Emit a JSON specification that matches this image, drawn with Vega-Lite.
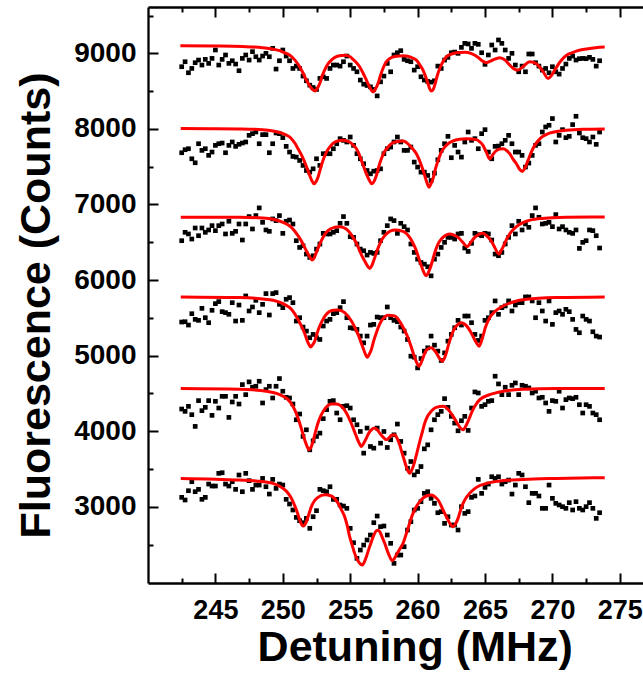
{
"$schema": "https://vega.github.io/schema/vega-lite/v6.json",
"width": 495, "height": 576,
"autosize": {"type": "none"},
"padding": {"left": 148, "top": 7, "right": 0, "bottom": 92},
"background": "white",
"config": {"view": {"stroke": null}, "axis": {"grid": false, "domainColor": "black", "tickColor": "black", "labelColor": "black", "titleColor": "black", "labelFont": "Liberation Sans", "titleFont": "Liberation Sans", "labelFontWeight": "bold", "titleFontWeight": "bold", "domainWidth": 2.3, "tickWidth": 2, "labelOverlap": false, "labelFlush": false}},
"datasets": {
"pts": [
{"t":1,"x":242.5,"y":8823},{"t":1,"x":242.75,"y":8889},{"t":1,"x":243,"y":8743},{"t":1,"x":243.25,"y":8800},{"t":1,"x":243.5,"y":8876},{"t":1,"x":243.75,"y":8911},{"t":1,"x":244,"y":8845},{"t":1,"x":244.25,"y":8920},{"t":1,"x":244.5,"y":8867},{"t":1,"x":244.75,"y":8933},
{"t":1,"x":245,"y":9044},{"t":1,"x":245.25,"y":8845},{"t":1,"x":245.5,"y":8920},{"t":1,"x":245.75,"y":8978},{"t":1,"x":246,"y":8867},{"t":1,"x":246.25,"y":8902},{"t":1,"x":246.5,"y":8858},{"t":1,"x":246.75,"y":8770},{"t":1,"x":247,"y":8933},{"t":1,"x":247.25,"y":8978},
{"t":1,"x":247.5,"y":8911},{"t":1,"x":247.75,"y":9022},{"t":1,"x":248,"y":8955},{"t":1,"x":248.25,"y":8911},{"t":1,"x":248.5,"y":8964},{"t":1,"x":248.75,"y":9000},{"t":1,"x":249,"y":8955},{"t":1,"x":249.25,"y":9066},{"t":1,"x":249.5,"y":8792},{"t":1,"x":249.75,"y":8902},
{"t":1,"x":250,"y":9044},{"t":1,"x":250.25,"y":8964},{"t":1,"x":250.5,"y":8902},{"t":1,"x":250.75,"y":8800},{"t":1,"x":251,"y":8831},{"t":1,"x":251.25,"y":8800},{"t":1,"x":251.5,"y":8699},{"t":1,"x":251.75,"y":8637},{"t":1,"x":252,"y":8579},{"t":1,"x":252.25,"y":8548},
{"t":1,"x":252.5,"y":8522},{"t":1,"x":252.75,"y":8668},{"t":1,"x":253,"y":8690},{"t":1,"x":253.25,"y":8668},{"t":1,"x":253.5,"y":8800},{"t":1,"x":253.75,"y":8845},{"t":1,"x":254,"y":8845},{"t":1,"x":254.25,"y":8831},{"t":1,"x":254.5,"y":8889},{"t":1,"x":254.75,"y":8964},
{"t":1,"x":255,"y":8845},{"t":1,"x":255.25,"y":8800},{"t":1,"x":255.5,"y":8756},{"t":1,"x":255.75,"y":8646},{"t":1,"x":256,"y":8592},{"t":1,"x":256.25,"y":8575},{"t":1,"x":256.5,"y":8557},{"t":1,"x":256.75,"y":8522},{"t":1,"x":257,"y":8437},{"t":1,"x":257.25,"y":8623},
{"t":1,"x":257.5,"y":8699},{"t":1,"x":257.75,"y":8867},{"t":1,"x":258,"y":8756},{"t":1,"x":258.25,"y":8978},{"t":1,"x":258.5,"y":9008},{"t":1,"x":258.75,"y":9035},{"t":1,"x":259,"y":8920},{"t":1,"x":259.25,"y":8902},{"t":1,"x":259.5,"y":8889},{"t":1,"x":259.75,"y":8778},
{"t":1,"x":260,"y":8823},{"t":1,"x":260.25,"y":8690},{"t":1,"x":260.5,"y":8646},{"t":1,"x":260.75,"y":8628},{"t":1,"x":261,"y":8619},{"t":1,"x":261.25,"y":8637},{"t":1,"x":261.5,"y":8831},{"t":1,"x":261.75,"y":8800},{"t":1,"x":262,"y":8911},{"t":1,"x":262.25,"y":8947},
{"t":1,"x":262.5,"y":9008},{"t":1,"x":262.75,"y":9017},{"t":1,"x":263,"y":9000},{"t":1,"x":263.25,"y":9079},{"t":1,"x":263.5,"y":9132},{"t":1,"x":263.75,"y":9124},{"t":1,"x":264,"y":9066},{"t":1,"x":264.25,"y":9132},{"t":1,"x":264.5,"y":9119},{"t":1,"x":264.75,"y":9008},
{"t":1,"x":265,"y":8854},{"t":1,"x":265.25,"y":8978},{"t":1,"x":265.5,"y":9110},{"t":1,"x":265.75,"y":9044},{"t":1,"x":266,"y":9177},{"t":1,"x":266.25,"y":9132},{"t":1,"x":266.5,"y":9044},{"t":1,"x":266.75,"y":8933},{"t":1,"x":267,"y":9000},{"t":1,"x":267.25,"y":8845},
{"t":1,"x":267.5,"y":8756},{"t":1,"x":267.75,"y":8831},{"t":1,"x":268,"y":8756},{"t":1,"x":268.25,"y":8991},{"t":1,"x":268.5,"y":8991},{"t":1,"x":268.75,"y":8876},{"t":1,"x":269,"y":8831},{"t":1,"x":269.25,"y":8778},{"t":1,"x":269.5,"y":8800},{"t":1,"x":269.75,"y":8743},
{"t":1,"x":270,"y":8823},{"t":1,"x":270.25,"y":8756},{"t":1,"x":270.5,"y":8725},{"t":1,"x":270.75,"y":8800},{"t":1,"x":271,"y":8858},{"t":1,"x":271.25,"y":8933},{"t":1,"x":271.5,"y":8964},{"t":1,"x":271.75,"y":8911},{"t":1,"x":272,"y":8929},{"t":1,"x":272.25,"y":8933},
{"t":1,"x":272.5,"y":8929},{"t":1,"x":272.75,"y":8947},{"t":1,"x":273,"y":8920},{"t":1,"x":273.25,"y":8831},{"t":1,"x":273.5,"y":8902},
{"t":2,"x":242.5,"y":7685},{"t":2,"x":242.75,"y":7725},{"t":2,"x":243,"y":7738},{"t":2,"x":243.25,"y":7605},{"t":2,"x":243.5,"y":7552},{"t":2,"x":243.75,"y":7804},{"t":2,"x":244,"y":7716},{"t":2,"x":244.25,"y":7738},{"t":2,"x":244.5,"y":7650},{"t":2,"x":244.75,"y":7694},
{"t":2,"x":245,"y":7782},{"t":2,"x":245.25,"y":7804},{"t":2,"x":245.5,"y":7813},{"t":2,"x":245.75,"y":7685},{"t":2,"x":246,"y":7782},{"t":2,"x":246.25,"y":7827},{"t":2,"x":246.5,"y":7769},{"t":2,"x":246.75,"y":7796},{"t":2,"x":247,"y":7813},{"t":2,"x":247.25,"y":7827},
{"t":2,"x":247.5,"y":7915},{"t":2,"x":247.75,"y":7937},{"t":2,"x":248,"y":7959},{"t":2,"x":248.25,"y":7804},{"t":2,"x":248.5,"y":7924},{"t":2,"x":248.75,"y":7924},{"t":2,"x":249,"y":7685},{"t":2,"x":249.25,"y":7804},{"t":2,"x":249.5,"y":7946},{"t":2,"x":249.75,"y":7937},
{"t":2,"x":250,"y":7884},{"t":2,"x":250.25,"y":7769},{"t":2,"x":250.5,"y":7694},{"t":2,"x":250.75,"y":7636},{"t":2,"x":251,"y":7627},{"t":2,"x":251.25,"y":7583},{"t":2,"x":251.5,"y":7517},{"t":2,"x":251.75,"y":7450},{"t":2,"x":252,"y":7428},{"t":2,"x":252.25,"y":7472},
{"t":2,"x":252.5,"y":7605},{"t":2,"x":252.75,"y":7517},{"t":2,"x":253,"y":7672},{"t":2,"x":253.25,"y":7672},{"t":2,"x":253.5,"y":7672},{"t":2,"x":253.75,"y":7738},{"t":2,"x":254,"y":7804},{"t":2,"x":254.25,"y":7871},{"t":2,"x":254.5,"y":7849},{"t":2,"x":254.75,"y":7827},
{"t":2,"x":255,"y":7893},{"t":2,"x":255.25,"y":7782},{"t":2,"x":255.5,"y":7672},{"t":2,"x":255.75,"y":7605},{"t":2,"x":256,"y":7539},{"t":2,"x":256.25,"y":7450},{"t":2,"x":256.5,"y":7406},{"t":2,"x":256.75,"y":7441},{"t":2,"x":257,"y":7450},{"t":2,"x":257.25,"y":7472},
{"t":2,"x":257.5,"y":7672},{"t":2,"x":257.75,"y":7738},{"t":2,"x":258,"y":7760},{"t":2,"x":258.25,"y":7827},{"t":2,"x":258.5,"y":7893},{"t":2,"x":258.75,"y":7827},{"t":2,"x":259,"y":7716},{"t":2,"x":259.25,"y":7716},{"t":2,"x":259.5,"y":7760},{"t":2,"x":259.75,"y":7561},
{"t":2,"x":260,"y":7495},{"t":2,"x":260.25,"y":7428},{"t":2,"x":260.5,"y":7428},{"t":2,"x":260.75,"y":7384},{"t":2,"x":261,"y":7317},{"t":2,"x":261.25,"y":7415},{"t":2,"x":261.5,"y":7592},{"t":2,"x":261.75,"y":7716},{"t":2,"x":262,"y":7804},{"t":2,"x":262.25,"y":7902},
{"t":2,"x":262.5,"y":7619},{"t":2,"x":262.75,"y":7782},{"t":2,"x":263,"y":7694},{"t":2,"x":263.25,"y":7627},{"t":2,"x":263.5,"y":7827},{"t":2,"x":263.75,"y":7959},{"t":2,"x":264,"y":7849},{"t":2,"x":264.25,"y":7871},{"t":2,"x":264.5,"y":7738},{"t":2,"x":264.75,"y":7937},
{"t":2,"x":265,"y":7990},{"t":2,"x":265.25,"y":7694},{"t":2,"x":265.5,"y":7605},{"t":2,"x":265.75,"y":7769},{"t":2,"x":266,"y":7773},{"t":2,"x":266.25,"y":7804},{"t":2,"x":266.5,"y":7849},{"t":2,"x":266.75,"y":7915},{"t":2,"x":267,"y":7804},{"t":2,"x":267.25,"y":7694},
{"t":2,"x":267.5,"y":7694},{"t":2,"x":267.75,"y":7650},{"t":2,"x":268,"y":7495},{"t":2,"x":268.25,"y":7548},{"t":2,"x":268.5,"y":7650},{"t":2,"x":268.75,"y":7782},{"t":2,"x":269,"y":7804},{"t":2,"x":269.25,"y":7959},{"t":2,"x":269.5,"y":8026},{"t":2,"x":269.75,"y":8048},
{"t":2,"x":270,"y":8137},{"t":2,"x":270.25,"y":7827},{"t":2,"x":270.5,"y":7915},{"t":2,"x":270.75,"y":7990},{"t":2,"x":271,"y":7884},{"t":2,"x":271.25,"y":7902},{"t":2,"x":271.5,"y":8057},{"t":2,"x":271.75,"y":8167},{"t":2,"x":272,"y":7946},{"t":2,"x":272.25,"y":7884},
{"t":2,"x":272.5,"y":7871},{"t":2,"x":272.75,"y":7827},{"t":2,"x":273,"y":7893},{"t":2,"x":273.25,"y":7796},{"t":2,"x":273.5,"y":7959},
{"t":3,"x":242.5,"y":6521},{"t":3,"x":242.75,"y":6632},{"t":3,"x":243,"y":6610},{"t":3,"x":243.25,"y":6543},{"t":3,"x":243.5,"y":6689},{"t":3,"x":243.75,"y":6587},{"t":3,"x":244,"y":6689},{"t":3,"x":244.25,"y":6632},{"t":3,"x":244.5,"y":6663},{"t":3,"x":244.75,"y":6720},
{"t":3,"x":245,"y":6654},{"t":3,"x":245.25,"y":6720},{"t":3,"x":245.5,"y":6742},{"t":3,"x":245.75,"y":6610},{"t":3,"x":246,"y":6778},{"t":3,"x":246.25,"y":6618},{"t":3,"x":246.5,"y":6645},{"t":3,"x":246.75,"y":6742},{"t":3,"x":247,"y":6530},{"t":3,"x":247.25,"y":6742},
{"t":3,"x":247.5,"y":6840},{"t":3,"x":247.75,"y":6676},{"t":3,"x":248,"y":6853},{"t":3,"x":248.25,"y":6955},{"t":3,"x":248.5,"y":6764},{"t":3,"x":248.75,"y":6663},{"t":3,"x":249,"y":6645},{"t":3,"x":249.25,"y":6809},{"t":3,"x":249.5,"y":6787},{"t":3,"x":249.75,"y":6853},
{"t":3,"x":250,"y":6618},{"t":3,"x":250.25,"y":6778},{"t":3,"x":250.5,"y":6795},{"t":3,"x":250.75,"y":6742},{"t":3,"x":251,"y":6521},{"t":3,"x":251.25,"y":6432},{"t":3,"x":251.5,"y":6454},{"t":3,"x":251.75,"y":6344},{"t":3,"x":252,"y":6300},{"t":3,"x":252.25,"y":6322},
{"t":3,"x":252.5,"y":6410},{"t":3,"x":252.75,"y":6477},{"t":3,"x":253,"y":6618},{"t":3,"x":253.25,"y":6610},{"t":3,"x":253.5,"y":6610},{"t":3,"x":253.75,"y":6632},{"t":3,"x":254,"y":6654},{"t":3,"x":254.25,"y":6751},{"t":3,"x":254.5,"y":6840},{"t":3,"x":254.75,"y":6751},
{"t":3,"x":255,"y":6574},{"t":3,"x":255.25,"y":6565},{"t":3,"x":255.5,"y":6477},{"t":3,"x":255.75,"y":6410},{"t":3,"x":256,"y":6388},{"t":3,"x":256.25,"y":6331},{"t":3,"x":256.5,"y":6366},{"t":3,"x":256.75,"y":6353},{"t":3,"x":257,"y":6366},{"t":3,"x":257.25,"y":6521},
{"t":3,"x":257.5,"y":6632},{"t":3,"x":257.75,"y":6720},{"t":3,"x":258,"y":6809},{"t":3,"x":258.25,"y":6787},{"t":3,"x":258.5,"y":6618},{"t":3,"x":258.75,"y":6751},{"t":3,"x":259,"y":6707},{"t":3,"x":259.25,"y":6663},{"t":3,"x":259.5,"y":6477},{"t":3,"x":259.75,"y":6366},
{"t":3,"x":260,"y":6277},{"t":3,"x":260.25,"y":6233},{"t":3,"x":260.5,"y":6211},{"t":3,"x":260.75,"y":6176},{"t":3,"x":261,"y":6056},{"t":3,"x":261.25,"y":6277},{"t":3,"x":261.5,"y":6344},{"t":3,"x":261.75,"y":6432},{"t":3,"x":262,"y":6499},{"t":3,"x":262.25,"y":6565},
{"t":3,"x":262.5,"y":6565},{"t":3,"x":262.75,"y":6543},{"t":3,"x":263,"y":6610},{"t":3,"x":263.25,"y":6618},{"t":3,"x":263.5,"y":6424},{"t":3,"x":263.75,"y":6379},{"t":3,"x":264,"y":6486},{"t":3,"x":264.25,"y":6618},{"t":3,"x":264.5,"y":6601},{"t":3,"x":264.75,"y":6587},
{"t":3,"x":265,"y":6618},{"t":3,"x":265.25,"y":6610},{"t":3,"x":265.5,"y":6530},{"t":3,"x":265.75,"y":6344},{"t":3,"x":266,"y":6322},{"t":3,"x":266.25,"y":6366},{"t":3,"x":266.5,"y":6477},{"t":3,"x":266.75,"y":6565},{"t":3,"x":267,"y":6720},{"t":3,"x":267.25,"y":6610},
{"t":3,"x":267.5,"y":6778},{"t":3,"x":267.75,"y":6663},{"t":3,"x":268,"y":6742},{"t":3,"x":268.25,"y":6698},{"t":3,"x":268.5,"y":6853},{"t":3,"x":268.75,"y":6955},{"t":3,"x":269,"y":6831},{"t":3,"x":269.25,"y":6742},{"t":3,"x":269.5,"y":6751},{"t":3,"x":269.75,"y":6764},
{"t":3,"x":270,"y":6707},{"t":3,"x":270.25,"y":6866},{"t":3,"x":270.5,"y":6676},{"t":3,"x":270.75,"y":6707},{"t":3,"x":271,"y":6663},{"t":3,"x":271.25,"y":6632},{"t":3,"x":271.5,"y":6618},{"t":3,"x":271.75,"y":6663},{"t":3,"x":272,"y":6419},{"t":3,"x":272.25,"y":6499},
{"t":3,"x":272.5,"y":6521},{"t":3,"x":272.75,"y":6663},{"t":3,"x":273,"y":6654},{"t":3,"x":273.25,"y":6587},{"t":3,"x":273.5,"y":6424},
{"t":4,"x":242.5,"y":5445},{"t":4,"x":242.75,"y":5449},{"t":4,"x":243,"y":5405},{"t":4,"x":243.25,"y":5555},{"t":4,"x":243.5,"y":5480},{"t":4,"x":243.75,"y":5467},{"t":4,"x":244,"y":5626},{"t":4,"x":244.25,"y":5502},{"t":4,"x":244.5,"y":5436},{"t":4,"x":244.75,"y":5600},
{"t":4,"x":245,"y":5688},{"t":4,"x":245.25,"y":5715},{"t":4,"x":245.5,"y":5582},{"t":4,"x":245.75,"y":5569},{"t":4,"x":246,"y":5547},{"t":4,"x":246.25,"y":5701},{"t":4,"x":246.5,"y":5458},{"t":4,"x":246.75,"y":5670},{"t":4,"x":247,"y":5467},{"t":4,"x":247.25,"y":5790},
{"t":4,"x":247.5,"y":5591},{"t":4,"x":247.75,"y":5644},{"t":4,"x":248,"y":5732},{"t":4,"x":248.25,"y":5569},{"t":4,"x":248.5,"y":5679},{"t":4,"x":248.75,"y":5821},{"t":4,"x":249,"y":5538},{"t":4,"x":249.25,"y":5821},{"t":4,"x":249.5,"y":5834},{"t":4,"x":249.75,"y":5679},
{"t":4,"x":250,"y":5635},{"t":4,"x":250.25,"y":5746},{"t":4,"x":250.5,"y":5768},{"t":4,"x":250.75,"y":5701},{"t":4,"x":251,"y":5458},{"t":4,"x":251.25,"y":5502},{"t":4,"x":251.5,"y":5378},{"t":4,"x":251.75,"y":5325},{"t":4,"x":252,"y":5237},{"t":4,"x":252.25,"y":5281},
{"t":4,"x":252.5,"y":5237},{"t":4,"x":252.75,"y":5214},{"t":4,"x":253,"y":5392},{"t":4,"x":253.25,"y":5458},{"t":4,"x":253.5,"y":5480},{"t":4,"x":253.75,"y":5555},{"t":4,"x":254,"y":5569},{"t":4,"x":254.25,"y":5635},{"t":4,"x":254.5,"y":5715},{"t":4,"x":254.75,"y":5502},
{"t":4,"x":255,"y":5369},{"t":4,"x":255.25,"y":5361},{"t":4,"x":255.5,"y":5347},{"t":4,"x":255.75,"y":5259},{"t":4,"x":256,"y":5170},{"t":4,"x":256.25,"y":5259},{"t":4,"x":256.5,"y":5405},{"t":4,"x":256.75,"y":5414},{"t":4,"x":257,"y":5511},{"t":4,"x":257.25,"y":5502},
{"t":4,"x":257.5,"y":5502},{"t":4,"x":257.75,"y":5644},{"t":4,"x":258,"y":5502},{"t":4,"x":258.25,"y":5467},{"t":4,"x":258.5,"y":5449},{"t":4,"x":258.75,"y":5378},{"t":4,"x":259,"y":5325},{"t":4,"x":259.25,"y":5214},{"t":4,"x":259.5,"y":4993},{"t":4,"x":259.75,"y":4980},
{"t":4,"x":260,"y":4838},{"t":4,"x":260.25,"y":4962},{"t":4,"x":260.5,"y":5060},{"t":4,"x":260.75,"y":5104},{"t":4,"x":261,"y":5259},{"t":4,"x":261.25,"y":5139},{"t":4,"x":261.5,"y":5060},{"t":4,"x":261.75,"y":4936},{"t":4,"x":262,"y":5037},{"t":4,"x":262.25,"y":5192},
{"t":4,"x":262.5,"y":5281},{"t":4,"x":262.75,"y":5369},{"t":4,"x":263,"y":5467},{"t":4,"x":263.25,"y":5405},{"t":4,"x":263.5,"y":5524},{"t":4,"x":263.75,"y":5524},{"t":4,"x":264,"y":5436},{"t":4,"x":264.25,"y":5281},{"t":4,"x":264.5,"y":5201},{"t":4,"x":264.75,"y":5259},
{"t":4,"x":265,"y":5467},{"t":4,"x":265.25,"y":5502},{"t":4,"x":265.5,"y":5569},{"t":4,"x":265.75,"y":5724},{"t":4,"x":266,"y":5547},{"t":4,"x":266.25,"y":5635},{"t":4,"x":266.5,"y":5657},{"t":4,"x":266.75,"y":5724},{"t":4,"x":267,"y":5591},{"t":4,"x":267.25,"y":5670},
{"t":4,"x":267.5,"y":5701},{"t":4,"x":267.75,"y":5701},{"t":4,"x":268,"y":5777},{"t":4,"x":268.25,"y":5777},{"t":4,"x":268.5,"y":5724},{"t":4,"x":268.75,"y":5502},{"t":4,"x":269,"y":5701},{"t":4,"x":269.25,"y":5591},{"t":4,"x":269.5,"y":5458},{"t":4,"x":269.75,"y":5724},
{"t":4,"x":270,"y":5414},{"t":4,"x":270.25,"y":5569},{"t":4,"x":270.5,"y":5591},{"t":4,"x":270.75,"y":5547},{"t":4,"x":271,"y":5613},{"t":4,"x":271.25,"y":5582},{"t":4,"x":271.5,"y":5480},{"t":4,"x":271.75,"y":5347},{"t":4,"x":272,"y":5303},{"t":4,"x":272.25,"y":5524},
{"t":4,"x":272.5,"y":5480},{"t":4,"x":272.75,"y":5458},{"t":4,"x":273,"y":5316},{"t":4,"x":273.25,"y":5259},{"t":4,"x":273.5,"y":5246},
{"t":5,"x":242.5,"y":4294},{"t":5,"x":242.75,"y":4263},{"t":5,"x":243,"y":4329},{"t":5,"x":243.25,"y":4219},{"t":5,"x":243.5,"y":4064},{"t":5,"x":243.75,"y":4405},{"t":5,"x":244,"y":4272},{"t":5,"x":244.25,"y":4316},{"t":5,"x":244.5,"y":4405},{"t":5,"x":244.75,"y":4210},
{"t":5,"x":245,"y":4396},{"t":5,"x":245.25,"y":4307},{"t":5,"x":245.5,"y":4462},{"t":5,"x":245.75,"y":4462},{"t":5,"x":246,"y":4183},{"t":5,"x":246.25,"y":4387},{"t":5,"x":246.5,"y":4462},{"t":5,"x":246.75,"y":4360},{"t":5,"x":247,"y":4617},{"t":5,"x":247.25,"y":4484},
{"t":5,"x":247.5,"y":4653},{"t":5,"x":247.75,"y":4582},{"t":5,"x":248,"y":4595},{"t":5,"x":248.25,"y":4661},{"t":5,"x":248.5,"y":4374},{"t":5,"x":248.75,"y":4551},{"t":5,"x":249,"y":4595},{"t":5,"x":249.25,"y":4440},{"t":5,"x":249.5,"y":4595},{"t":5,"x":249.75,"y":4697},
{"t":5,"x":250,"y":4529},{"t":5,"x":250.25,"y":4449},{"t":5,"x":250.5,"y":4440},{"t":5,"x":250.75,"y":4360},{"t":5,"x":251,"y":4152},{"t":5,"x":251.25,"y":4228},{"t":5,"x":251.5,"y":3931},{"t":5,"x":251.75,"y":4019},{"t":5,"x":252,"y":3754},{"t":5,"x":252.25,"y":3873},
{"t":5,"x":252.5,"y":3931},{"t":5,"x":252.75,"y":3975},{"t":5,"x":253,"y":4166},{"t":5,"x":253.25,"y":4285},{"t":5,"x":253.5,"y":4396},{"t":5,"x":253.75,"y":4405},{"t":5,"x":254,"y":4241},{"t":5,"x":254.25,"y":4152},{"t":5,"x":254.5,"y":4329},{"t":5,"x":254.75,"y":4338},
{"t":5,"x":255,"y":4307},{"t":5,"x":255.25,"y":4152},{"t":5,"x":255.5,"y":4086},{"t":5,"x":255.75,"y":3997},{"t":5,"x":256,"y":3710},{"t":5,"x":256.25,"y":4042},{"t":5,"x":256.5,"y":3798},{"t":5,"x":256.75,"y":3776},{"t":5,"x":257,"y":4042},{"t":5,"x":257.25,"y":3842},
{"t":5,"x":257.5,"y":3997},{"t":5,"x":257.75,"y":3785},{"t":5,"x":258,"y":3887},{"t":5,"x":258.25,"y":3953},{"t":5,"x":258.5,"y":4095},{"t":5,"x":258.75,"y":3865},{"t":5,"x":259,"y":3710},{"t":5,"x":259.25,"y":3510},{"t":5,"x":259.5,"y":3599},{"t":5,"x":259.75,"y":3422},
{"t":5,"x":260,"y":3466},{"t":5,"x":260.25,"y":3533},{"t":5,"x":260.5,"y":3767},{"t":5,"x":260.75,"y":3820},{"t":5,"x":261,"y":4019},{"t":5,"x":261.25,"y":4152},{"t":5,"x":261.5,"y":4219},{"t":5,"x":261.75,"y":4263},{"t":5,"x":262,"y":4431},{"t":5,"x":262.25,"y":4316},
{"t":5,"x":262.5,"y":4197},{"t":5,"x":262.75,"y":4108},{"t":5,"x":263,"y":4006},{"t":5,"x":263.25,"y":4139},{"t":5,"x":263.5,"y":4197},{"t":5,"x":263.75,"y":4011},{"t":5,"x":264,"y":4307},{"t":5,"x":264.25,"y":4520},{"t":5,"x":264.5,"y":4506},{"t":5,"x":264.75,"y":4329},
{"t":5,"x":265,"y":4351},{"t":5,"x":265.25,"y":4396},{"t":5,"x":265.5,"y":4405},{"t":5,"x":265.75,"y":4728},{"t":5,"x":266,"y":4626},{"t":5,"x":266.25,"y":4484},{"t":5,"x":266.5,"y":4582},{"t":5,"x":266.75,"y":4484},{"t":5,"x":267,"y":4608},{"t":5,"x":267.25,"y":4639},
{"t":5,"x":267.5,"y":4484},{"t":5,"x":267.75,"y":4608},{"t":5,"x":268,"y":4595},{"t":5,"x":268.25,"y":4573},{"t":5,"x":268.5,"y":4506},{"t":5,"x":268.75,"y":4529},{"t":5,"x":269,"y":4440},{"t":5,"x":269.25,"y":4449},{"t":5,"x":269.5,"y":4374},{"t":5,"x":269.75,"y":4263},
{"t":5,"x":270,"y":4405},{"t":5,"x":270.25,"y":4396},{"t":5,"x":270.5,"y":4529},{"t":5,"x":270.75,"y":4307},{"t":5,"x":271,"y":4418},{"t":5,"x":271.25,"y":4440},{"t":5,"x":271.5,"y":4431},{"t":5,"x":271.75,"y":4449},{"t":5,"x":272,"y":4351},{"t":5,"x":272.25,"y":4241},
{"t":5,"x":272.5,"y":4351},{"t":5,"x":272.75,"y":4329},{"t":5,"x":273,"y":4241},{"t":5,"x":273.25,"y":4219},{"t":5,"x":273.5,"y":4152},
{"t":6,"x":242.5,"y":3125},{"t":6,"x":242.75,"y":3090},{"t":6,"x":243,"y":3213},{"t":6,"x":243.25,"y":3332},{"t":6,"x":243.5,"y":3200},{"t":6,"x":243.75,"y":3231},{"t":6,"x":244,"y":3099},{"t":6,"x":244.25,"y":3125},{"t":6,"x":244.5,"y":3301},{"t":6,"x":244.75,"y":3275},
{"t":6,"x":245,"y":3275},{"t":6,"x":245.25,"y":3443},{"t":6,"x":245.5,"y":3451},{"t":6,"x":245.75,"y":3301},{"t":6,"x":246,"y":3275},{"t":6,"x":246.25,"y":3332},{"t":6,"x":246.5,"y":3231},{"t":6,"x":246.75,"y":3421},{"t":6,"x":247,"y":3200},{"t":6,"x":247.25,"y":3443},
{"t":6,"x":247.5,"y":3346},{"t":6,"x":247.75,"y":3231},{"t":6,"x":248,"y":3288},{"t":6,"x":248.25,"y":3288},{"t":6,"x":248.5,"y":3376},{"t":6,"x":248.75,"y":3266},{"t":6,"x":249,"y":3169},{"t":6,"x":249.25,"y":3363},{"t":6,"x":249.5,"y":3244},{"t":6,"x":249.75,"y":3301},
{"t":6,"x":250,"y":3288},{"t":6,"x":250.25,"y":3099},{"t":6,"x":250.5,"y":3037},{"t":6,"x":250.75,"y":2958},{"t":6,"x":251,"y":2860},{"t":6,"x":251.25,"y":2816},{"t":6,"x":251.5,"y":2790},{"t":6,"x":251.75,"y":2847},{"t":6,"x":252,"y":2715},{"t":6,"x":252.25,"y":2869},
{"t":6,"x":252.5,"y":2949},{"t":6,"x":252.75,"y":3231},{"t":6,"x":253,"y":3213},{"t":6,"x":253.25,"y":3200},{"t":6,"x":253.5,"y":3266},{"t":6,"x":253.75,"y":3099},{"t":6,"x":254,"y":3099},{"t":6,"x":254.25,"y":3024},{"t":6,"x":254.5,"y":3010},{"t":6,"x":254.75,"y":2980},
{"t":6,"x":255,"y":2715},{"t":6,"x":255.25,"y":2525},{"t":6,"x":255.5,"y":2318},{"t":6,"x":255.75,"y":2428},{"t":6,"x":256,"y":2494},{"t":6,"x":256.25,"y":2561},{"t":6,"x":256.5,"y":2627},{"t":6,"x":256.75,"y":2790},{"t":6,"x":257,"y":2878},{"t":6,"x":257.25,"y":2737},
{"t":6,"x":257.5,"y":2746},{"t":6,"x":257.75,"y":2627},{"t":6,"x":258,"y":2517},{"t":6,"x":258.25,"y":2252},{"t":6,"x":258.5,"y":2362},{"t":6,"x":258.75,"y":2362},{"t":6,"x":259,"y":2472},{"t":6,"x":259.25,"y":2693},{"t":6,"x":259.5,"y":2803},{"t":6,"x":259.75,"y":2958},
{"t":6,"x":260,"y":2980},{"t":6,"x":260.25,"y":3068},{"t":6,"x":260.5,"y":3178},{"t":6,"x":260.75,"y":3200},{"t":6,"x":261,"y":3112},{"t":6,"x":261.25,"y":3046},{"t":6,"x":261.5,"y":2922},{"t":6,"x":261.75,"y":2936},{"t":6,"x":262,"y":2781},{"t":6,"x":262.25,"y":2869},
{"t":6,"x":262.5,"y":2759},{"t":6,"x":262.75,"y":2759},{"t":6,"x":263,"y":2693},{"t":6,"x":263.25,"y":3002},{"t":6,"x":263.5,"y":2913},{"t":6,"x":263.75,"y":2936},{"t":6,"x":264,"y":3125},{"t":6,"x":264.25,"y":3143},{"t":6,"x":264.5,"y":3363},{"t":6,"x":264.75,"y":3178},
{"t":6,"x":265,"y":3257},{"t":6,"x":265.25,"y":3301},{"t":6,"x":265.5,"y":3398},{"t":6,"x":265.75,"y":3376},{"t":6,"x":266,"y":3398},{"t":6,"x":266.25,"y":3301},{"t":6,"x":266.5,"y":3332},{"t":6,"x":266.75,"y":3354},{"t":6,"x":267,"y":3169},{"t":6,"x":267.25,"y":3288},
{"t":6,"x":267.5,"y":3443},{"t":6,"x":267.75,"y":3421},{"t":6,"x":268,"y":3266},{"t":6,"x":268.25,"y":3055},{"t":6,"x":268.5,"y":3178},{"t":6,"x":268.75,"y":3178},{"t":6,"x":269,"y":3143},{"t":6,"x":269.25,"y":2980},{"t":6,"x":269.5,"y":2980},{"t":6,"x":269.75,"y":3288},
{"t":6,"x":270,"y":3112},{"t":6,"x":270.25,"y":3046},{"t":6,"x":270.5,"y":3024},{"t":6,"x":270.75,"y":3002},{"t":6,"x":271,"y":2980},{"t":6,"x":271.25,"y":3055},{"t":6,"x":271.5,"y":2958},{"t":6,"x":271.75,"y":3068},{"t":6,"x":272,"y":2980},{"t":6,"x":272.25,"y":2958},
{"t":6,"x":272.5,"y":3002},{"t":6,"x":272.75,"y":3055},{"t":6,"x":273,"y":2980},{"t":6,"x":273.25,"y":2847},{"t":6,"x":273.5,"y":2922}
],
"fit": [
{"t":1,"x":242.4,"y":9100},{"t":1,"x":245,"y":9097},{"t":1,"x":247,"y":9090},{"t":1,"x":248.5,"y":9075},{"t":1,"x":249.3,"y":9055},{"t":1,"x":249.77,"y":9035},{"t":1,"x":250.1,"y":9010},{"t":1,"x":250.5,"y":8978},{"t":1,"x":250.9,"y":8910},{"t":1,"x":251.25,"y":8823},{"t":1,"x":251.5,"y":8740},{"t":1,"x":251.75,"y":8646},{"t":1,"x":252,"y":8570},{"t":1,"x":252.2,"y":8522},{"t":1,"x":252.4,"y":8503},{"t":1,"x":252.57,"y":8540},{"t":1,"x":252.74,"y":8601},{"t":1,"x":252.9,"y":8690},{"t":1,"x":253.1,"y":8778},{"t":1,"x":253.35,"y":8860},{"t":1,"x":253.6,"y":8911},{"t":1,"x":253.9,"y":8950},{"t":1,"x":254.2,"y":8969},{"t":1,"x":254.6,"y":8975},{"t":1,"x":255,"y":8955},{"t":1,"x":255.21,"y":8920},{"t":1,"x":255.45,"y":8880},{"t":1,"x":255.7,"y":8823},{"t":1,"x":255.95,"y":8740},{"t":1,"x":256.2,"y":8646},{"t":1,"x":256.45,"y":8550},{"t":1,"x":256.69,"y":8490},{"t":1,"x":256.88,"y":8530},{"t":1,"x":257.06,"y":8601},{"t":1,"x":257.25,"y":8710},{"t":1,"x":257.43,"y":8800},{"t":1,"x":257.65,"y":8880},{"t":1,"x":257.93,"y":8933},{"t":1,"x":258.4,"y":8962},{"t":1,"x":258.92,"y":8969},{"t":1,"x":259.4,"y":8955},{"t":1,"x":259.91,"y":8911},{"t":1,"x":260.15,"y":8850},{"t":1,"x":260.4,"y":8778},{"t":1,"x":260.6,"y":8690},{"t":1,"x":260.77,"y":8601},{"t":1,"x":260.9,"y":8530},{"t":1,"x":261.02,"y":8503},{"t":1,"x":261.15,"y":8520},{"t":1,"x":261.27,"y":8579},{"t":1,"x":261.45,"y":8700},{"t":1,"x":261.64,"y":8800},{"t":1,"x":261.9,"y":8895},{"t":1,"x":262.13,"y":8955},{"t":1,"x":262.5,"y":8990},{"t":1,"x":262.88,"y":9008},{"t":1,"x":263.49,"y":9013},{"t":1,"x":264,"y":8995},{"t":1,"x":264.5,"y":8945},{"t":1,"x":264.8,"y":8900},{"t":1,"x":265.1,"y":8876},{"t":1,"x":265.5,"y":8905},{"t":1,"x":266.09,"y":8942},{"t":1,"x":266.5,"y":8910},{"t":1,"x":266.83,"y":8845},{"t":1,"x":267.1,"y":8800},{"t":1,"x":267.45,"y":8778},{"t":1,"x":267.85,"y":8830},{"t":1,"x":268.32,"y":8889},{"t":1,"x":268.6,"y":8880},{"t":1,"x":268.93,"y":8845},{"t":1,"x":269.3,"y":8760},{"t":1,"x":269.68,"y":8668},{"t":1,"x":269.9,"y":8700},{"t":1,"x":270.17,"y":8778},{"t":1,"x":270.5,"y":8870},{"t":1,"x":270.79,"y":8933},{"t":1,"x":271.1,"y":8980},{"t":1,"x":271.53,"y":9013},{"t":1,"x":272,"y":9040},{"t":1,"x":272.52,"y":9057},{"t":1,"x":273.2,"y":9075},{"t":1,"x":273.88,"y":9084},
{"t":2,"x":242.43,"y":8004},{"t":2,"x":245,"y":8003},{"t":2,"x":246.8,"y":8000},{"t":2,"x":248.5,"y":7990},{"t":2,"x":249.27,"y":7973},{"t":2,"x":250.02,"y":7937},{"t":2,"x":250.35,"y":7910},{"t":2,"x":250.64,"y":7871},{"t":2,"x":250.9,"y":7810},{"t":2,"x":251.13,"y":7738},{"t":2,"x":251.4,"y":7650},{"t":2,"x":251.62,"y":7561},{"t":2,"x":251.82,"y":7470},{"t":2,"x":252,"y":7384},{"t":2,"x":252.17,"y":7310},{"t":2,"x":252.32,"y":7273},{"t":2,"x":252.46,"y":7300},{"t":2,"x":252.61,"y":7362},{"t":2,"x":252.8,"y":7480},{"t":2,"x":252.98,"y":7583},{"t":2,"x":253.2,"y":7680},{"t":2,"x":253.48,"y":7760},{"t":2,"x":253.72,"y":7810},{"t":2,"x":253.97,"y":7835},{"t":2,"x":254.47,"y":7849},{"t":2,"x":254.96,"y":7827},{"t":2,"x":255.2,"y":7790},{"t":2,"x":255.46,"y":7738},{"t":2,"x":255.65,"y":7670},{"t":2,"x":255.83,"y":7583},{"t":2,"x":256.02,"y":7490},{"t":2,"x":256.2,"y":7406},{"t":2,"x":256.42,"y":7320},{"t":2,"x":256.62,"y":7273},{"t":2,"x":256.78,"y":7310},{"t":2,"x":256.94,"y":7384},{"t":2,"x":257.12,"y":7500},{"t":2,"x":257.31,"y":7605},{"t":2,"x":257.55,"y":7700},{"t":2,"x":257.81,"y":7760},{"t":2,"x":258.1,"y":7810},{"t":2,"x":258.42,"y":7831},{"t":2,"x":258.92,"y":7840},{"t":2,"x":259.41,"y":7782},{"t":2,"x":259.67,"y":7730},{"t":2,"x":259.91,"y":7672},{"t":2,"x":260.1,"y":7600},{"t":2,"x":260.28,"y":7517},{"t":2,"x":260.45,"y":7430},{"t":2,"x":260.6,"y":7340},{"t":2,"x":260.73,"y":7270},{"t":2,"x":260.85,"y":7229},{"t":2,"x":260.98,"y":7270},{"t":2,"x":261.14,"y":7340},{"t":2,"x":261.32,"y":7470},{"t":2,"x":261.52,"y":7583},{"t":2,"x":261.75,"y":7690},{"t":2,"x":262.01,"y":7760},{"t":2,"x":262.3,"y":7810},{"t":2,"x":262.63,"y":7840},{"t":2,"x":263.1,"y":7862},{"t":2,"x":263.62,"y":7871},{"t":2,"x":264.36,"y":7858},{"t":2,"x":264.6,"y":7830},{"t":2,"x":264.85,"y":7782},{"t":2,"x":265.1,"y":7690},{"t":2,"x":265.35,"y":7605},{"t":2,"x":265.6,"y":7665},{"t":2,"x":265.84,"y":7712},{"t":2,"x":266.1,"y":7735},{"t":2,"x":266.34,"y":7738},{"t":2,"x":266.6,"y":7715},{"t":2,"x":266.83,"y":7672},{"t":2,"x":267.08,"y":7600},{"t":2,"x":267.33,"y":7539},{"t":2,"x":267.55,"y":7470},{"t":2,"x":267.77,"y":7437},{"t":2,"x":267.98,"y":7490},{"t":2,"x":268.19,"y":7583},{"t":2,"x":268.45,"y":7700},{"t":2,"x":268.69,"y":7782},{"t":2,"x":269,"y":7855},{"t":2,"x":269.3,"y":7902},{"t":2,"x":269.65,"y":7935},{"t":2,"x":270.05,"y":7955},{"t":2,"x":271.04,"y":7982},{"t":2,"x":272.27,"y":7995},{"t":2,"x":273.88,"y":7999},
{"t":3,"x":242.43,"y":6831},{"t":3,"x":246.8,"y":6831},{"t":3,"x":248.5,"y":6820},{"t":3,"x":249.27,"y":6804},{"t":3,"x":250.02,"y":6764},{"t":3,"x":250.64,"y":6698},{"t":3,"x":251.13,"y":6587},{"t":3,"x":251.4,"y":6510},{"t":3,"x":251.62,"y":6432},{"t":3,"x":251.8,"y":6370},{"t":3,"x":251.95,"y":6322},{"t":3,"x":252.07,"y":6285},{"t":3,"x":252.17,"y":6264},{"t":3,"x":252.3,"y":6285},{"t":3,"x":252.49,"y":6366},{"t":3,"x":252.68,"y":6450},{"t":3,"x":252.86,"y":6521},{"t":3,"x":253.1,"y":6600},{"t":3,"x":253.35,"y":6654},{"t":3,"x":253.85,"y":6698},{"t":3,"x":254.22,"y":6707},{"t":3,"x":254.71,"y":6676},{"t":3,"x":255,"y":6620},{"t":3,"x":255.21,"y":6565},{"t":3,"x":255.45,"y":6490},{"t":3,"x":255.65,"y":6410},{"t":3,"x":255.87,"y":6320},{"t":3,"x":256.07,"y":6255},{"t":3,"x":256.27,"y":6190},{"t":3,"x":256.45,"y":6153},{"t":3,"x":256.6,"y":6190},{"t":3,"x":256.74,"y":6255},{"t":3,"x":256.94,"y":6360},{"t":3,"x":257.14,"y":6455},{"t":3,"x":257.4,"y":6550},{"t":3,"x":257.68,"y":6610},{"t":3,"x":258,"y":6650},{"t":3,"x":258.3,"y":6663},{"t":3,"x":258.92,"y":6645},{"t":3,"x":259.41,"y":6565},{"t":3,"x":259.65,"y":6490},{"t":3,"x":259.86,"y":6410},{"t":3,"x":260.07,"y":6300},{"t":3,"x":260.28,"y":6189},{"t":3,"x":260.47,"y":6100},{"t":3,"x":260.65,"y":6056},{"t":3,"x":260.8,"y":6100},{"t":3,"x":260.95,"y":6167},{"t":3,"x":261.14,"y":6280},{"t":3,"x":261.32,"y":6388},{"t":3,"x":261.52,"y":6480},{"t":3,"x":261.76,"y":6543},{"t":3,"x":262.05,"y":6590},{"t":3,"x":262.38,"y":6610},{"t":3,"x":262.7,"y":6595},{"t":3,"x":263,"y":6565},{"t":3,"x":263.35,"y":6500},{"t":3,"x":263.69,"y":6441},{"t":3,"x":263.95,"y":6500},{"t":3,"x":264.24,"y":6565},{"t":3,"x":264.55,"y":6605},{"t":3,"x":264.85,"y":6618},{"t":3,"x":265.1,"y":6590},{"t":3,"x":265.35,"y":6543},{"t":3,"x":265.55,"y":6490},{"t":3,"x":265.72,"y":6432},{"t":3,"x":265.9,"y":6370},{"t":3,"x":266.04,"y":6344},{"t":3,"x":266.2,"y":6390},{"t":3,"x":266.39,"y":6455},{"t":3,"x":266.6,"y":6540},{"t":3,"x":266.83,"y":6610},{"t":3,"x":267.08,"y":6665},{"t":3,"x":267.33,"y":6707},{"t":3,"x":267.7,"y":6750},{"t":3,"x":268.07,"y":6778},{"t":3,"x":268.5,"y":6800},{"t":3,"x":269.06,"y":6813},{"t":3,"x":270,"y":6825},{"t":3,"x":271.04,"y":6831},{"t":3,"x":273.88,"y":6835},
{"t":4,"x":242.43,"y":5777},{"t":4,"x":246.8,"y":5768},{"t":4,"x":248.5,"y":5750},{"t":4,"x":249.27,"y":5732},{"t":4,"x":250.02,"y":5688},{"t":4,"x":250.64,"y":5613},{"t":4,"x":251.13,"y":5480},{"t":4,"x":251.3,"y":5420},{"t":4,"x":251.5,"y":5347},{"t":4,"x":251.67,"y":5270},{"t":4,"x":251.82,"y":5192},{"t":4,"x":251.95,"y":5145},{"t":4,"x":252.07,"y":5113},{"t":4,"x":252.2,"y":5140},{"t":4,"x":252.37,"y":5192},{"t":4,"x":252.55,"y":5300},{"t":4,"x":252.74,"y":5392},{"t":4,"x":252.98,"y":5480},{"t":4,"x":253.23,"y":5547},{"t":4,"x":253.73,"y":5600},{"t":4,"x":254.1,"y":5604},{"t":4,"x":254.59,"y":5569},{"t":4,"x":255.09,"y":5458},{"t":4,"x":255.35,"y":5370},{"t":4,"x":255.58,"y":5281},{"t":4,"x":255.78,"y":5185},{"t":4,"x":255.95,"y":5104},{"t":4,"x":256.1,"y":5030},{"t":4,"x":256.27,"y":4980},{"t":4,"x":256.42,"y":5020},{"t":4,"x":256.57,"y":5082},{"t":4,"x":256.75,"y":5200},{"t":4,"x":256.94,"y":5303},{"t":4,"x":257.12,"y":5390},{"t":4,"x":257.31,"y":5458},{"t":4,"x":257.55,"y":5510},{"t":4,"x":257.81,"y":5533},{"t":4,"x":258.3,"y":5524},{"t":4,"x":258.8,"y":5414},{"t":4,"x":259.05,"y":5330},{"t":4,"x":259.29,"y":5237},{"t":4,"x":259.5,"y":5130},{"t":4,"x":259.71,"y":5015},{"t":4,"x":259.9,"y":4920},{"t":4,"x":260.11,"y":4860},{"t":4,"x":260.25,"y":4900},{"t":4,"x":260.4,"y":4971},{"t":4,"x":260.55,"y":5040},{"t":4,"x":260.7,"y":5082},{"t":4,"x":261.02,"y":5104},{"t":4,"x":261.2,"y":5080},{"t":4,"x":261.39,"y":5037},{"t":4,"x":261.6,"y":4970},{"t":4,"x":261.84,"y":4927},{"t":4,"x":262,"y":4970},{"t":4,"x":262.13,"y":5037},{"t":4,"x":262.3,"y":5150},{"t":4,"x":262.5,"y":5259},{"t":4,"x":262.68,"y":5340},{"t":4,"x":262.87,"y":5392},{"t":4,"x":263.25,"y":5436},{"t":4,"x":263.5,"y":5415},{"t":4,"x":263.74,"y":5369},{"t":4,"x":263.95,"y":5310},{"t":4,"x":264.16,"y":5237},{"t":4,"x":264.36,"y":5170},{"t":4,"x":264.56,"y":5126},{"t":4,"x":264.7,"y":5175},{"t":4,"x":264.85,"y":5259},{"t":4,"x":265.02,"y":5370},{"t":4,"x":265.22,"y":5458},{"t":4,"x":265.45,"y":5530},{"t":4,"x":265.72,"y":5582},{"t":4,"x":266.34,"y":5657},{"t":4,"x":267.08,"y":5710},{"t":4,"x":268.07,"y":5746},{"t":4,"x":270.29,"y":5768},{"t":4,"x":273.88,"y":5777},
{"t":5,"x":242.43,"y":4564},{"t":5,"x":246.8,"y":4555},{"t":5,"x":248.78,"y":4529},{"t":5,"x":249.77,"y":4484},{"t":5,"x":250.39,"y":4418},{"t":5,"x":250.65,"y":4360},{"t":5,"x":250.88,"y":4285},{"t":5,"x":251.07,"y":4200},{"t":5,"x":251.25,"y":4108},{"t":5,"x":251.45,"y":3990},{"t":5,"x":251.62,"y":3887},{"t":5,"x":251.8,"y":3800},{"t":5,"x":251.95,"y":3754},{"t":5,"x":252.1,"y":3790},{"t":5,"x":252.24,"y":3865},{"t":5,"x":252.42,"y":3990},{"t":5,"x":252.61,"y":4108},{"t":5,"x":252.85,"y":4215},{"t":5,"x":253.11,"y":4294},{"t":5,"x":253.35,"y":4340},{"t":5,"x":253.6,"y":4360},{"t":5,"x":253.97,"y":4360},{"t":5,"x":254.47,"y":4307},{"t":5,"x":254.72,"y":4240},{"t":5,"x":254.96,"y":4152},{"t":5,"x":255.2,"y":4050},{"t":5,"x":255.41,"y":3953},{"t":5,"x":255.62,"y":3860},{"t":5,"x":255.83,"y":3798},{"t":5,"x":256,"y":3840},{"t":5,"x":256.2,"y":3909},{"t":5,"x":256.38,"y":3975},{"t":5,"x":256.57,"y":4019},{"t":5,"x":256.82,"y":4042},{"t":5,"x":257,"y":4020},{"t":5,"x":257.19,"y":3975},{"t":5,"x":257.45,"y":3920},{"t":5,"x":257.68,"y":3887},{"t":5,"x":257.9,"y":3915},{"t":5,"x":258.05,"y":3944},{"t":5,"x":258.3,"y":3953},{"t":5,"x":258.5,"y":3900},{"t":5,"x":258.67,"y":3820},{"t":5,"x":258.85,"y":3710},{"t":5,"x":259.04,"y":3599},{"t":5,"x":259.22,"y":3500},{"t":5,"x":259.41,"y":3444},{"t":5,"x":259.6,"y":3500},{"t":5,"x":259.78,"y":3599},{"t":5,"x":259.97,"y":3730},{"t":5,"x":260.16,"y":3865},{"t":5,"x":260.35,"y":3990},{"t":5,"x":260.53,"y":4108},{"t":5,"x":260.7,"y":4185},{"t":5,"x":260.9,"y":4241},{"t":5,"x":261.15,"y":4290},{"t":5,"x":261.39,"y":4316},{"t":5,"x":261.89,"y":4329},{"t":5,"x":262.38,"y":4263},{"t":5,"x":262.62,"y":4200},{"t":5,"x":262.87,"y":4130},{"t":5,"x":263.1,"y":4060},{"t":5,"x":263.37,"y":4019},{"t":5,"x":263.55,"y":4060},{"t":5,"x":263.74,"y":4130},{"t":5,"x":263.92,"y":4210},{"t":5,"x":264.11,"y":4285},{"t":5,"x":264.35,"y":4360},{"t":5,"x":264.61,"y":4418},{"t":5,"x":265.35,"y":4484},{"t":5,"x":266.34,"y":4529},{"t":5,"x":267.82,"y":4555},{"t":5,"x":270.29,"y":4564},{"t":5,"x":273.88,"y":4564},
{"t":6,"x":242.43,"y":3376},{"t":6,"x":246.8,"y":3354},{"t":6,"x":248.04,"y":3341},{"t":6,"x":249.27,"y":3310},{"t":6,"x":250.02,"y":3244},{"t":6,"x":250.35,"y":3190},{"t":6,"x":250.64,"y":3112},{"t":6,"x":250.85,"y":3030},{"t":6,"x":251.01,"y":2958},{"t":6,"x":251.16,"y":2880},{"t":6,"x":251.3,"y":2803},{"t":6,"x":251.5,"y":2746},{"t":6,"x":251.62,"y":2760},{"t":6,"x":251.75,"y":2803},{"t":6,"x":251.93,"y":2900},{"t":6,"x":252.12,"y":3002},{"t":6,"x":252.35,"y":3080},{"t":6,"x":252.61,"y":3125},{"t":6,"x":253.11,"y":3160},{"t":6,"x":253.6,"y":3143},{"t":6,"x":254.1,"y":3046},{"t":6,"x":254.35,"y":2960},{"t":6,"x":254.59,"y":2869},{"t":6,"x":254.78,"y":2750},{"t":6,"x":254.96,"y":2605},{"t":6,"x":255.15,"y":2490},{"t":6,"x":255.33,"y":2384},{"t":6,"x":255.5,"y":2310},{"t":6,"x":255.7,"y":2252},{"t":6,"x":255.9,"y":2230},{"t":6,"x":256.05,"y":2270},{"t":6,"x":256.2,"y":2340},{"t":6,"x":256.38,"y":2440},{"t":6,"x":256.57,"y":2539},{"t":6,"x":256.75,"y":2625},{"t":6,"x":256.94,"y":2684},{"t":6,"x":257.06,"y":2690},{"t":6,"x":257.19,"y":2671},{"t":6,"x":257.37,"y":2600},{"t":6,"x":257.56,"y":2517},{"t":6,"x":257.75,"y":2420},{"t":6,"x":257.93,"y":2340},{"t":6,"x":258.1,"y":2287},{"t":6,"x":258.25,"y":2310},{"t":6,"x":258.42,"y":2362},{"t":6,"x":258.67,"y":2440},{"t":6,"x":258.92,"y":2517},{"t":6,"x":259.1,"y":2610},{"t":6,"x":259.29,"y":2715},{"t":6,"x":259.47,"y":2820},{"t":6,"x":259.66,"y":2913},{"t":6,"x":259.9,"y":3000},{"t":6,"x":260.16,"y":3068},{"t":6,"x":260.4,"y":3115},{"t":6,"x":260.65,"y":3143},{"t":6,"x":261.02,"y":3156},{"t":6,"x":261.3,"y":3130},{"t":6,"x":261.52,"y":3090},{"t":6,"x":261.7,"y":3030},{"t":6,"x":261.89,"y":2958},{"t":6,"x":262.07,"y":2890},{"t":6,"x":262.26,"y":2825},{"t":6,"x":262.45,"y":2765},{"t":6,"x":262.63,"y":2737},{"t":6,"x":262.8,"y":2770},{"t":6,"x":263,"y":2847},{"t":6,"x":263.18,"y":2950},{"t":6,"x":263.37,"y":3046},{"t":6,"x":263.6,"y":3120},{"t":6,"x":263.86,"y":3178},{"t":6,"x":264.36,"y":3257},{"t":6,"x":265.1,"y":3310},{"t":6,"x":266.09,"y":3341},{"t":6,"x":267.82,"y":3363},{"t":6,"x":270.29,"y":3376},{"t":6,"x":273.88,"y":3385}
]
},
"resolve": {"axis": {"x": "independent", "y": "independent"}},
"layer": [
{"data": {"name": "pts"},
 "mark": {"type": "square", "size": 22, "color": "black", "opacity": 1},
 "encoding": {
  "x": {"field": "x", "type": "quantitative", "scale": {"domain": [240, 276.72], "nice": false, "zero": false},
        "axis": {"orient": "bottom", "values": [245, 250, 255, 260, 265, 270, 275], "format": "d", "tickSize": -10, "labelFontSize": 27, "labelPadding": 45, "labelBaseline": "alphabetic", "title": "Detuning (MHz)", "titleFontSize": 43, "titleX": 266.7, "titleY": 77, "titleAlign": "center", "titleBaseline": "alphabetic"}},
  "y": {"field": "y", "type": "quantitative", "scale": {"domain": [1992, 9613], "nice": false, "zero": false},
        "axis": {"orient": "left", "values": [3000, 4000, 5000, 6000, 7000, 8000, 9000], "format": "d", "tickSize": -10, "labelFontSize": 28, "labelPadding": 22, "labelBaseline": "middle", "title": "Fluorescence (Counts)", "titleFontSize": 43, "titleX": -99, "titleY": 298, "titleAngle": -90, "titleAlign": "center", "titleBaseline": "alphabetic"}}
 }},
{"data": {"name": "fit"},
 "mark": {"type": "line", "color": "#ff0000", "strokeWidth": 3, "interpolate": "monotone"},
 "encoding": {
  "x": {"field": "x", "type": "quantitative", "scale": {"domain": [240, 276.72], "nice": false, "zero": false},
        "axis": {"orient": "bottom", "values": [242.5, 247.5, 252.5, 257.5, 262.5, 267.5, 272.5], "tickSize": -5, "labels": false, "domain": false, "title": null}},
  "y": {"field": "y", "type": "quantitative", "scale": {"domain": [1992, 9613], "nice": false, "zero": false},
        "axis": {"orient": "left", "values": [2500, 3500, 4500, 5500, 6500, 7500, 8500, 9500], "tickSize": -5, "labels": false, "domain": false, "title": null}},
  "detail": {"field": "t", "type": "nominal"}
 }},
{"data": {"name": "fit"},
 "mark": {"type": "line", "opacity": 0},
 "encoding": {
  "x": {"field": "x", "type": "quantitative", "scale": {"domain": [240, 276.72], "nice": false, "zero": false},
        "axis": {"orient": "top", "values": [245, 250, 255, 260, 265, 270, 275], "tickSize": -10, "labels": false, "domain": true, "title": null}},
  "y": {"field": "y", "type": "quantitative", "scale": {"domain": [1992, 9613], "nice": false, "zero": false}, "axis": null},
  "detail": {"field": "t", "type": "nominal"}
 }},
{"data": {"name": "fit"},
 "mark": {"type": "line", "opacity": 0},
 "encoding": {
  "x": {"field": "x", "type": "quantitative", "scale": {"domain": [240, 276.72], "nice": false, "zero": false},
        "axis": {"orient": "top", "values": [242.5, 247.5, 252.5, 257.5, 262.5, 267.5, 272.5], "tickSize": -5, "labels": false, "domain": false, "title": null}},
  "y": {"field": "y", "type": "quantitative", "scale": {"domain": [1992, 9613], "nice": false, "zero": false}, "axis": null},
  "detail": {"field": "t", "type": "nominal"}
 }}
]
}
